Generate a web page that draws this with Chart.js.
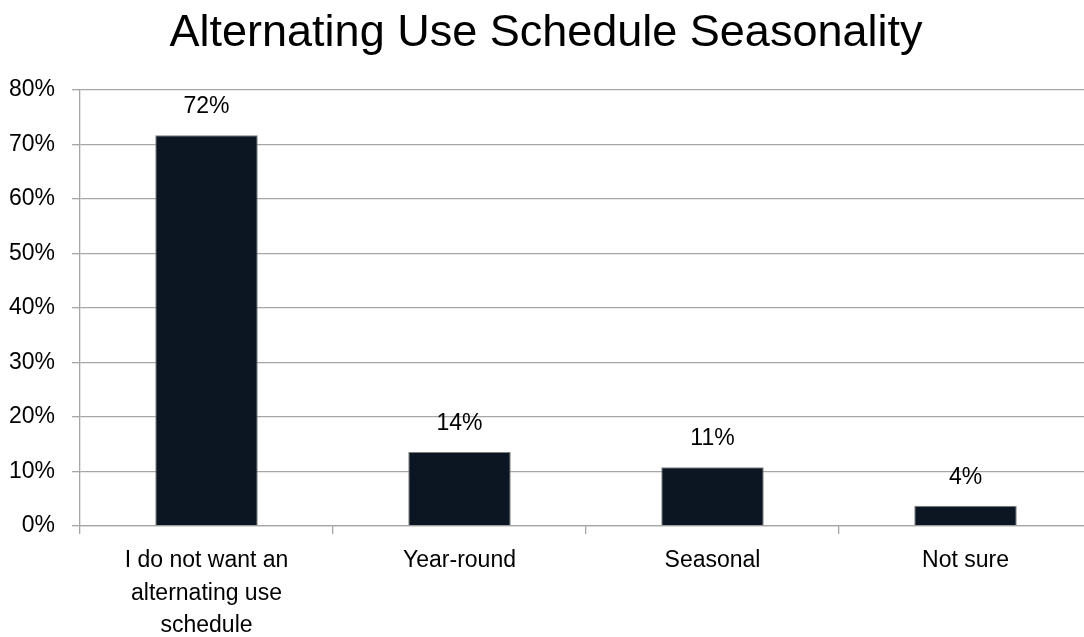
<!DOCTYPE html>
<html>
<head>
<meta charset="utf-8">
<title>Alternating Use Schedule Seasonality</title>
<script src="https://cdn.jsdelivr.net/npm/chart.js@4/dist/chart.umd.min.js"></script>
<style>
  html, body { margin: 0; padding: 0; background: #fff; overflow: hidden; }
  #wrap { width: 1100px; height: 637px; }
</style>
</head>
<body>
<div id="wrap"><canvas id="chart"></canvas></div>
<script>
// ── Data ──
const categories = [
  ['I do not want an', 'alternating use', 'schedule'],
  'Year-round',
  'Seasonal',
  'Not sure'
];
const shares = [71.7, 13.6, 10.8, 3.7];
const shareLabels = ['72%', '14%', '11%', '4%'];
const yTicks = [0, 10, 20, 30, 40, 50, 60, 70, 80];

const FONT = '"Liberation Sans", Arial, sans-serif';
const GRID = '#a6a6a6';

// value labels above bars
const barLabels = {
  id: 'barLabels',
  afterDatasetsDraw(chart) {
    const ctx = chart.ctx;
    const meta = chart.getDatasetMeta(0);
    ctx.save();
    ctx.font = '23px ' + FONT;
    ctx.fillStyle = '#000';
    ctx.textAlign = 'center';
    ctx.textBaseline = 'bottom';
    meta.data.forEach(function(bar, i) {
      ctx.fillText(shareLabels[i], bar.x, bar.y - 17);
    });
    ctx.restore();
  }
};

new Chart(document.getElementById('chart'), {
  type: 'bar',
  data: {
    labels: categories,
    datasets: [{
      data: shares,
      backgroundColor: '#0b1622',
      borderColor: '#7f7f7f',
      borderWidth: 1,
      categoryPercentage: 1,
      barPercentage: 0.405
    }]
  },
  options: {
    responsive: true,
    maintainAspectRatio: false,
    animation: false,
    layout: { padding: { top: 0, right: 8, left: 0, bottom: 0 } },
    plugins: {
      legend: { display: false },
      tooltip: { enabled: false },
      title: {
        display: true,
        text: 'Alternating Use Schedule Seasonality',
        color: '#000',
        font: { family: FONT, size: 45, weight: 'normal' },
        padding: { top: 7, bottom: 29 }
      }
    },
    scales: {
      y: {
        min: 0, max: 80,
        afterBuildTicks: function(axis) { axis.ticks = yTicks.map(function(v) { return { value: v }; }); },
        afterFit: function(axis) { axis.width = 80; },
        ticks: {
          color: '#000',
          font: { family: FONT, size: 23 },
          padding: 17,
          callback: function(v) { return v + '%'; }
        },
        grid: { color: GRID, lineWidth: 1.3, tickLength: 8 },
        border: { color: GRID, width: 1.3 }
      },
      x: {
        afterFit: function(axis) { axis.height = 111; },
        ticks: {
          color: '#000',
          font: { family: FONT, size: 23, lineHeight: 1.4 },
          padding: 11,
          maxRotation: 0
        },
        grid: { offset: true, drawOnChartArea: false, color: GRID, lineWidth: 1.3, tickLength: 8 },
        border: { color: GRID, width: 1.3 }
      }
    }
  },
  plugins: [barLabels]
});
</script>
</body>
</html>
